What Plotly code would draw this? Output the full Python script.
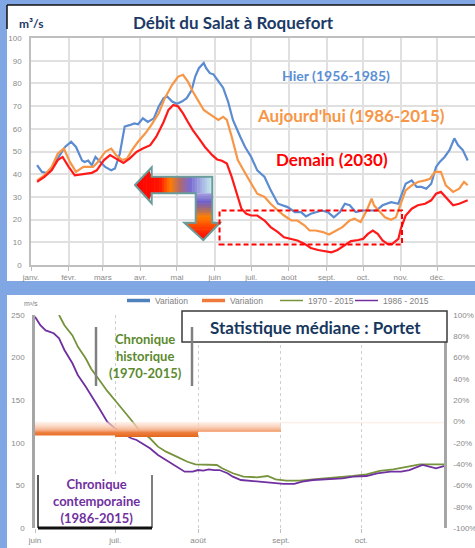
import plotly.graph_objects as go

W, H = 475, 548

# ---------------- Top chart data : Débit du Salat à Roquefort ----------------
month_starts = [0, 31, 59, 90, 120, 151, 181, 212, 243, 273, 304, 334]
month_labels = ['janv.', 'févr.', 'mars', 'avr.', 'mai', 'juin', 'juil.', 'août',
                'sept.', 'oct.', 'nov.', 'déc.']

hier_day = [5, 9, 13, 17, 22, 28, 33, 37, 42, 44, 47, 50, 53, 57, 61, 66, 69, 73, 77, 81,
            85, 88, 92, 96, 101, 105, 109, 112, 116, 120, 124, 128, 132, 135, 138, 142,
            144, 147, 150, 154, 158, 162, 166, 172, 176, 181, 186, 192, 197, 203, 207,
            211, 217, 222, 226, 230, 239, 244, 249, 254, 258, 262, 267, 273, 278, 284,
            289, 296, 302, 304, 308, 313, 317, 321, 325, 329, 333, 336, 340, 344, 348,
            351, 355, 359]
hier_q = [44, 41, 40.5, 42.5, 47, 52, 54.3, 52, 46, 45.4, 46, 44, 47.6, 45.4, 43.2, 41.7,
          42.5, 49, 61, 61.6, 62.4, 62, 64.6, 63, 64.6, 69.8, 73.5, 74.2, 72, 71, 72, 73.5,
          77, 83, 86.7, 89, 86.7, 84.5, 84, 81, 78, 72, 63.9, 56.5, 52, 47.6, 41.7, 38.8,
          33, 27, 26.3, 25.5, 23.3, 23.3, 21.4, 22.6, 24, 23.3, 21, 23.3, 27, 26.3, 23.3,
          24, 24, 24, 26.3, 27.7, 27, 30, 35.8, 37.3, 34.4, 34.4, 33.6, 35.8, 43.2, 45.4,
          47.6, 50.6, 55.8, 52.8, 50.6, 46]

auj_day = [5, 11, 17, 22, 27, 32, 37, 43, 47, 51, 55, 61, 66, 70, 75, 79, 83, 88, 94, 99,
           105, 110, 116, 121, 125, 129, 133, 138, 142, 146, 150, 154, 158, 161, 165, 170,
           176, 181, 186, 192, 197, 203, 208, 214, 219, 225, 229, 234, 240, 245, 251, 256,
           262, 266, 271, 276, 280, 282, 287, 291, 296, 300, 304, 308, 313, 318, 324, 328,
           332, 337, 341, 347, 352, 356, 359]
auj_q = [37.3, 39.5, 43.2, 49, 51.3, 45.4, 41, 43.2, 43.2, 43.2, 45.4, 49.9, 51.3, 48.4,
         46.2, 46.9, 50.6, 54.3, 58, 61.7, 66.8, 73.5, 79.4, 83, 83.8, 80.8, 76.4, 72, 68.3,
         66.8, 65.3, 63.9, 65.3, 63.9, 56.5, 46.2, 40.5, 35.8, 31.4, 30, 27, 24, 21.8, 19.6,
         19.6, 17.4, 15.2, 15.2, 14.5, 13.4, 15.2, 16.7, 19.6, 20.4, 18.9, 24, 29.2, 26.3,
         23.3, 21, 19.9, 21, 27, 32.9, 35.1, 36.6, 37.3, 38, 41, 41, 35.1, 32.2, 33.6,
         36.6, 35.1]

dem_day = [5, 11, 17, 22, 26, 31, 36, 43, 50, 54, 60, 65, 70, 76, 81, 87, 92, 98, 103,
           109, 113, 117, 121, 125, 129, 133, 138, 143, 149, 153, 157, 161, 165, 169, 173,
           177, 181, 186, 192, 197, 203, 208, 214, 219, 225, 230, 236, 241, 247, 252, 258,
           263, 269, 273, 277, 281, 285, 289, 293, 297, 302, 304, 308, 313, 318, 324, 329,
           333, 337, 341, 347, 352, 359]
dem_q = [36.6, 38.8, 41.7, 46.2, 47.6, 43.2, 39.5, 40, 40.6, 41.7, 46.2, 48.4, 46.9, 45,
         46.9, 49.9, 51.3, 52.8, 56.5, 63, 68.3, 70.5, 69.8, 66.8, 63, 59.4, 55.8, 52, 48.4,
         46.5, 45.9, 44.7, 38.8, 31.4, 24.8, 22.6, 21.8, 21.8, 19.6, 16.7, 14.5, 12.2, 11.5,
         10.8, 9.3, 7.5, 6.6, 6, 5.6, 6.6, 8.6, 10.5, 11, 11.5, 13.7, 15.2, 13.7, 10.8, 9.3,
         9.3, 11.5, 15.9, 21.8, 24.8, 26.3, 27, 28.5, 31.4, 32.2, 30, 26.3, 27, 28.5]

# dashed box of the low-water period (day of year, m3/s)
etiage_days = [155, 305]
etiage_q = [9, 24]

# ---------------- Bottom chart data : Statistique médiane Portet ----------------
p_tick_days = [0, 30, 61, 92, 122]
p_tick_labels = ['juin', 'juil.', 'août', 'sept.', 'oct.']
p_end_day = 153

hist_day = [9, 11, 14, 16, 19, 21, 24, 27, 31, 34, 36, 39, 43, 46, 49, 53, 57, 60, 64,
            68, 70, 74, 78, 83, 87, 90, 94, 99, 104, 109, 114, 119, 124, 129, 134, 139,
            144, 149, 153]
hist_q = [250, 238, 226, 213, 199, 187, 174, 161, 146, 135, 127, 115, 105.5, 95.7, 89.8,
          84, 78, 75, 75, 74.2, 70.3, 64.5, 60.5, 59.8, 61.3, 57.4, 55.8, 55.8, 57.4, 58.6,
          59.3, 61.3, 63.3, 67.2, 69, 72.2, 75, 75, 75]

cont_day = [0, 2, 4, 7, 9, 11, 14, 16, 19, 21, 24, 27, 30, 33, 36, 38, 41, 43, 46, 49,
            52, 56, 59, 61, 63, 65, 67, 69, 72, 74, 77, 80, 85, 89, 93, 97, 100, 104, 108,
            112, 115, 119, 124, 128, 133, 137, 140, 145, 148, 150, 153]
cont_q = [248, 238, 232, 228.6, 222.7, 209, 193.4, 179.7, 166, 156.3, 140.7, 125, 117,
          111, 105.5, 103.5, 97.6, 93.8, 86, 80, 74, 66.4, 66.4, 68.3, 67.5, 69, 68.3, 68.3,
          64.5, 60.5, 56.6, 55.8, 54.6, 52.7, 52, 52, 54.6, 56.6, 57.4, 58.6, 58.6, 60.5,
          61.3, 64.5, 66.4, 66.4, 68.3, 74.2, 72.2, 70.3, 73]

var_month_start = [0, 30, 61, 92, 122]
var_orange = [-13, -14.5, -9.5, -1.5, -1.5]

legend_names = ['Variation', 'Variation', '1970 - 2015', '1986 - 2015']
legend_colors = ['#4f81bd', '#f07a3a', '#77933c', '#7030a0']

# ---------------- helpers ----------------
def X(px):
    return px / W


def Y(py):
    return 1 - py / H


FONT = 'Lato'
TICKFONT = dict(family='Liberation Sans', size=8, color='#8a8a8a')

fig = go.Figure()

# top curves
fig.add_trace(go.Scatter(x=hier_day, y=hier_q, mode='lines', name='Hier',
                         line=dict(color='#5b8bd0', width=2.2), showlegend=False,
                         xaxis='x', yaxis='y'))
fig.add_trace(go.Scatter(x=auj_day, y=auj_q, mode='lines', name="Aujourd'hui",
                         line=dict(color='#f79646', width=2.2), showlegend=False,
                         xaxis='x', yaxis='y'))
fig.add_trace(go.Scatter(x=dem_day, y=dem_q, mode='lines', name='Demain',
                         line=dict(color='#ff1a1a', width=2.2), showlegend=False,
                         xaxis='x', yaxis='y'))

# bottom: variation (orange) as stepped area with gradient
fig.add_trace(go.Scatter(
    x=var_month_start + [p_end_day], y=var_orange + [var_orange[-1]],
    mode='lines', line=dict(width=0, shape='hv'), fill='tozeroy', name=legend_names[1],
    fillgradient=dict(type='vertical', start=min(var_orange), stop=0,
                      colorscale=[[0, '#e2661a'], [0.3, '#ee8040'], [0.45, '#f5b08a'],
                                  [1, 'rgba(253,232,220,0.5)']]),
    showlegend=False, hoverinfo='skip', xaxis='x2', yaxis='y3'))

fig.add_trace(go.Scatter(x=hist_day, y=hist_q, mode='lines', name=legend_names[2],
                         line=dict(color=legend_colors[2], width=1.8), xaxis='x2',
                         yaxis='y2', showlegend=False))
fig.add_trace(go.Scatter(x=cont_day, y=cont_q, mode='lines', name=legend_names[3],
                         line=dict(color=legend_colors[3], width=1.8), xaxis='x2',
                         yaxis='y2', showlegend=False))

shapes = []
# white panels
shapes.append(dict(type='rect', xref='paper', yref='paper', x0=X(7), x1=1, y0=Y(281),
                   y1=Y(5), fillcolor='white', line=dict(width=0), layer='below'))
shapes.append(dict(type='rect', xref='paper', yref='paper', x0=X(7), x1=1, y0=0,
                   y1=Y(295), fillcolor='white', line=dict(width=0), layer='below'))
shapes.append(dict(type='line', xref='paper', yref='paper', x0=X(7), x1=1, y0=Y(5),
                   y1=Y(5), line=dict(color='#111111', width=1.5)))
shapes.append(dict(type='line', xref='paper', yref='paper', x0=X(7), x1=X(7), y0=Y(5),
                   y1=Y(29), line=dict(color='#111111', width=1.5)))


# gradient arrow (decoration)
def lerp(stops, t):
    for k in range(len(stops) - 1):
        p0, c0 = stops[k]
        p1, c1 = stops[k + 1]
        if t <= p1:
            f = 0 if p1 == p0 else (t - p0) / (p1 - p0)
            f = max(0, min(1, f))
            c = [round(c0[j] + (c1[j] - c0[j]) * f) for j in range(3)]
            return 'rgb(%d,%d,%d)' % tuple(c)
    return 'rgb(%d,%d,%d)' % tuple(stops[-1][1])


def poly(pts):
    return 'M' + ' L'.join('%.5f,%.5f' % (X(a), Y(b)) for a, b in pts) + ' Z'


hstops = [(135, (255, 0, 0)), (160, (255, 20, 0)), (170, (255, 125, 0)),
          (180, (175, 105, 110)), (190, (120, 105, 210)), (200, (160, 170, 225)),
          (212.3, (200, 238, 238))]
vstops = [(193.3, (165, 160, 225)), (202, (112, 96, 200)), (210, (175, 110, 100)),
          (217, (255, 128, 0)), (228, (255, 60, 0)), (240, (255, 0, 0))]


def htop(x):
    return 185 - (x - 135) * (185 - 167.3) / (151.7 - 135) if x < 151.7 else 176.7


def hbot(x):
    return 185 + (x - 135) * (203.3 - 185) / (151.7 - 135) if x < 151.7 else 193.3


edges = [135 + i * (151.7 - 135) / 6 for i in range(7)] + \
        [151.7 + (i + 1) * (212.3 - 151.7) / 24 for i in range(24)]
for a, b in zip(edges[:-1], edges[1:]):
    bb = min(b + 0.6, 212.3)
    pts = [(a, htop(a)), (bb, htop(bb) if b < 151.7 else 176.7),
           (bb, hbot(bb) if b < 151.7 else 193.3), (a, hbot(a))]
    shapes.append(dict(type='path', xref='paper', yref='paper', path=poly(pts),
                       fillcolor=lerp(hstops, (a + b) / 2), line=dict(width=0),
                       layer='above'))


def vl(y):
    return 195.7 if y < 222.7 else 184.3 + (y - 222.7) * (203.3 - 184.3) / (240 - 222.7)


def vr(y):
    return 212.3 if y < 222.7 else 220 - (y - 222.7) * (220 - 203.3) / (240 - 222.7)


vedges = [193.3 + i * (222.7 - 193.3) / 12 for i in range(13)] + \
         [222.7 + (i + 1) * (240 - 222.7) / 8 for i in range(8)]
for a, b in zip(vedges[:-1], vedges[1:]):
    bb = min(b + 0.6, 240)
    if a >= 222.7:
        pts = [(vl(a), a), (vr(a), a), (vr(bb), bb), (vl(bb), bb)]
    else:
        pts = [(195.7, a), (212.3, a), (212.3, bb), (195.7, bb)]
    shapes.append(dict(type='path', xref='paper', yref='paper', path=poly(pts),
                       fillcolor=lerp(vstops, (a + b) / 2), line=dict(width=0),
                       layer='above'))

arrow_outline = [(135, 185), (151.7, 167.3), (151.7, 176.7), (212.3, 176.7), (212.3, 222.7),
                 (220, 222.7), (203.3, 240), (184.3, 222.7), (195.7, 222.7), (195.7, 193.3),
                 (151.7, 193.3), (151.7, 203.3)]
shapes.append(dict(type='path', xref='paper', yref='paper', path=poly(arrow_outline),
                   line=dict(color='#6a9c9c', width=2), layer='above'))

# dashed box (étiage)
shapes.append(dict(type='rect', xref='x', yref='y', x0=etiage_days[0], x1=etiage_days[1],
                   y0=etiage_q[0], y1=etiage_q[1],
                   line=dict(color='#ff0000', width=2, dash='5px,3px'), layer='above'))

# bottom title box
shapes.append(dict(type='rect', xref='paper', yref='paper', x0=X(182), x1=X(447),
                   y0=Y(342), y1=Y(311), fillcolor='white',
                   line=dict(color='#3a3a3a', width=1.5), layer='above'))
for gx in (96, 192):
    shapes.append(dict(type='line', xref='paper', yref='paper', x0=X(gx), x1=X(gx),
                       y0=Y(386), y1=Y(327), line=dict(color='#808080', width=2.5),
                       layer='above'))
# contemporaine box
shapes.append(dict(type='rect', xref='paper', yref='paper', x0=X(38), x1=X(152),
                   y0=Y(528), y1=Y(475), fillcolor='white', line=dict(width=0),
                   layer='above'))
shapes.append(dict(type='line', xref='paper', yref='paper', x0=X(38), x1=X(38),
                   y0=Y(528), y1=Y(475), line=dict(color='#222222', width=1.5),
                   layer='above'))
shapes.append(dict(type='line', xref='paper', yref='paper', x0=X(152), x1=X(152),
                   y0=Y(528), y1=Y(475), line=dict(color='#555555', width=1.5),
                   layer='above'))
shapes.append(dict(type='line', xref='paper', yref='paper', x0=X(38), x1=X(152),
                   y0=Y(528), y1=Y(528), line=dict(color='#111111', width=3),
                   layer='above'))

ann = []


def add_text(txt, px, py, size, color, bold=True, family=FONT, xanchor='center'):
    ann.append(dict(text=('<b>%s</b>' % txt) if bold else txt, x=X(px), y=Y(py),
                    xref='paper', yref='paper', showarrow=False, xanchor=xanchor,
                    yanchor='middle', font=dict(family=family, size=size, color=color)))


# manual legend (line sample + label)
leg_x = [127, 202, 280, 355]
for i in range(4):
    shapes.append(dict(type='line', xref='paper', yref='paper', x0=X(leg_x[i]),
                       x1=X(leg_x[i] + 23), y0=Y(300.5), y1=Y(300.5),
                       line=dict(color=legend_colors[i], width=3.5 if i < 2 else 1.5)))
    add_text(legend_names[i], leg_x[i] + 26, 300.5, 8.5, '#7f7f7f', bold=False,
             family='Liberation Sans', xanchor='left')

add_text('Débit du Salat à Roquefort', 233, 22, 17, '#1c3a66')
add_text('m³/s', 31, 24, 12, '#1c3a66')
add_text('Hier (1956-1985)', 336, 75.5, 14, '#5b8fd4')
add_text("Aujourd'hui (1986-2015)", 351, 116, 17, '#f79646')
add_text('Demain (2030)', 332, 159.5, 17, '#ff0000')
add_text('Statistique médiane : Portet', 315, 327, 17, '#17375e')
add_text('Chronique<br>historique<br>(1970-2015)', 145, 356, 13, '#5c8a2e')
add_text('Chronique<br>contemporaine<br>(1986-2015)', 96, 501, 13, '#7030a0')
add_text('m³/s', 31, 303, 7, '#7f7f7f', bold=False, family='Liberation Sans')

fig.update_layout(
    width=W, height=H, margin=dict(l=0, r=0, t=0, b=0, autoexpand=False),
    paper_bgcolor='#80a7e3', plot_bgcolor='white',
    shapes=shapes, annotations=ann,
    showlegend=False,
    xaxis=dict(domain=[X(31), 1], range=[0, 365], tickvals=month_starts,
               ticktext=month_labels, showgrid=True, gridcolor='#e0e0e0', gridwidth=1.5,
               showline=True, linecolor='#bfbfbf', linewidth=1.5, mirror=True,
               ticks='outside', ticklen=4, tickcolor='#bfbfbf', tickfont=TICKFONT,
               zeroline=False, anchor='y', automargin=False),
    yaxis=dict(domain=[Y(265), Y(38)], range=[0, 100], dtick=10, showgrid=True,
               gridcolor='#e0e0e0', gridwidth=1.5, showline=True, linecolor='#bfbfbf',
               linewidth=1.5, ticks='', tickfont=TICKFONT, zeroline=False, anchor='x',
               ticklabelstandoff=6, automargin=False),
    xaxis2=dict(domain=[X(35), X(444)], range=[0, p_end_day], tickvals=p_tick_days,
                ticktext=p_tick_labels, showgrid=True, gridcolor='#cfcfcf', griddash='dot',
                gridwidth=1, showline=False, ticks='outside', ticklen=4,
                tickcolor='#bfbfbf', tickfont=TICKFONT, zeroline=False, anchor='y2',
                automargin=False),
    yaxis2=dict(domain=[Y(528.3), Y(315)], range=[0, 250],
                tickvals=[0, 50, 100, 150, 200, 250],
                showgrid=False, showline=True, linecolor='#a6a6a6', linewidth=2.5,
                ticks='', tickfont=TICKFONT, zeroline=False, anchor='x2',
                ticklabelstandoff=6, automargin=False),
    yaxis3=dict(overlaying='y2', side='right', range=[-100, 100],
                tickvals=list(range(-100, 101, 20)),
                ticktext=['%d%%' % v for v in range(-100, 101, 20)],
                showgrid=False, showline=True, linecolor='#a6a6a6', linewidth=2.5,
                ticks='', tickfont=TICKFONT, zeroline=False, anchor='x2',
                ticklabelstandoff=5, automargin=False),
)

fig.write_html('out.html', config={'displayModeBar': False},
               post_script="document.body.style.margin='0';")
